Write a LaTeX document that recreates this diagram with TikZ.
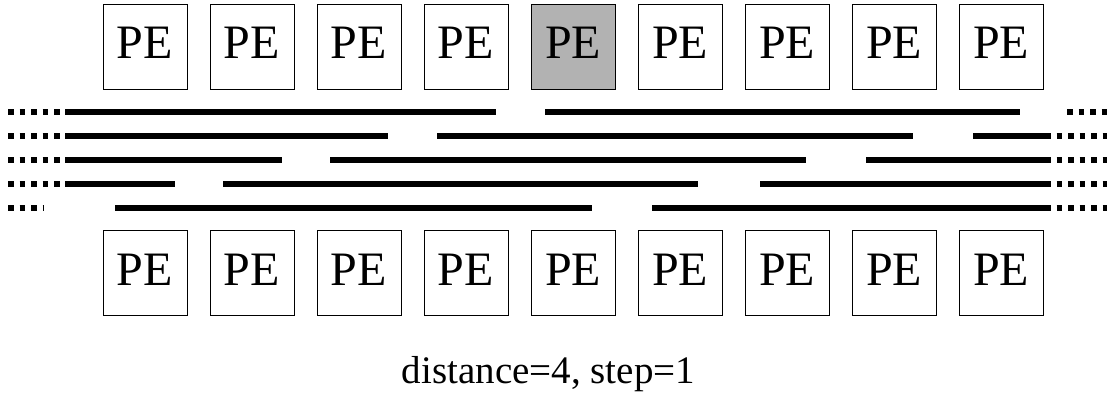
\documentclass[tikz,border=0pt]{standalone}
\usepackage{fontspec}
\setmainfont{Liberation Serif}
\begin{document}
\begin{tikzpicture}[x=1pt,y=-1pt,
  pebox/.style={draw, line width=1pt, minimum width=84pt, minimum height=85pt,
    inner sep=0pt, text depth=7pt, font=\fontsize{48}{48}\selectfont},
  busline/.style={line width=5.5pt},
  busdots/.style={line width=5.5pt, dash pattern=on 5.5pt off 6pt}]
\definecolor{activepe}{gray}{0.7}
\useasboundingbox (0,0) rectangle (1107,394);

% processing elements, upper and lower rows
\foreach \i in {0,1,2,3,5,6,7,8} {
  \node[pebox] (top\i) at ({145+107*\i},46.5) {PE};
}
\node[pebox, fill=activepe] (top4) at ({145+107*4},46.5) {PE};
\foreach \i in {0,...,8} {
  \node[pebox] (bot\i) at ({145+107*\i},273) {PE};
}

% bus segments, one row per track
\draw[busdots] (8,112) -- (65,112);
\draw[busline] (65,112) -- (496,112) (545,112) -- (1020,112);
\draw[busdots] (1067,112) -- (1107,112);

\draw[busdots] (8,136) -- (65,136);
\draw[busline] (65,136) -- (388,136) (437,136) -- (913,136) (973,136) -- (1045,136);
\draw[busdots] (1045,136) -- (1107,136);

\draw[busdots] (8,160) -- (65,160);
\draw[busline] (65,160) -- (282,160) (330,160) -- (806,160) (866,160) -- (1045,160);
\draw[busdots] (1045,160) -- (1107,160);

\draw[busdots] (8,184) -- (65,184);
\draw[busline] (65,184) -- (175,184) (223,184) -- (698,184) (760,184) -- (1045,184);
\draw[busdots] (1045,184) -- (1107,184);

\draw[busdots] (8,208) -- (43,208);
\draw[busline] (115,208) -- (592,208) (652,208) -- (1045,208);
\draw[busdots] (1045,208) -- (1107,208);

\node[anchor=base, font=\fontsize{39}{39}\selectfont, inner sep=0pt] (caption) at (548.5,383) {distance=4, step=1};
\end{tikzpicture}
\end{document}
